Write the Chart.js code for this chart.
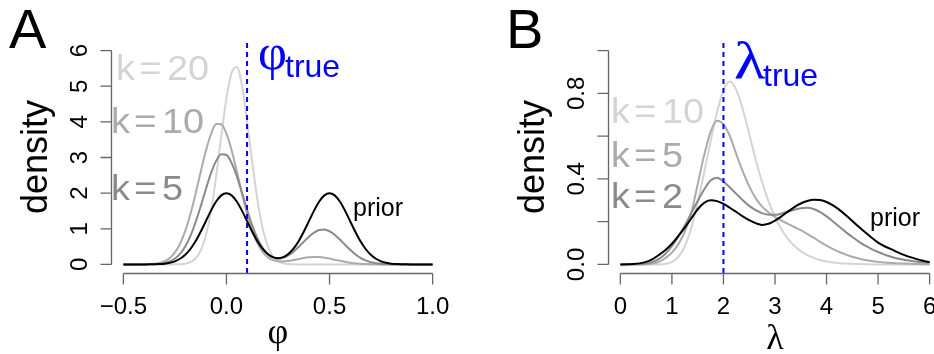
<!DOCTYPE html>
<html>
<head>
<meta charset="utf-8">
<script src="https://cdn.jsdelivr.net/npm/chart.js@4.4.1/dist/chart.umd.min.js"></script>
<style>
  html, body { margin: 0; padding: 0; background: #fff; }
  body { position: relative; width: 934px; height: 354px; overflow: hidden; }
  .panel { position: absolute; top: 0; }
</style>
</head>
<body>
<div class="panel" style="left:0"><canvas id="chartA" width="467" height="354"></canvas></div>
<div class="panel" style="left:467px"><canvas id="chartB" width="480" height="354"></canvas></div>
<script>
// ---- Panel A: densities of phi ----
const phi = [-0.5, -0.475, -0.45, -0.425, -0.4, -0.375, -0.35, -0.325, -0.3, -0.275,
  -0.25, -0.225, -0.2, -0.175, -0.15, -0.125, -0.1, -0.075, -0.05, -0.025,
  0, 0.025, 0.05, 0.075, 0.1, 0.125, 0.15, 0.175, 0.2, 0.225,
  0.25, 0.275, 0.3, 0.325, 0.35, 0.375, 0.4, 0.425, 0.45, 0.475,
  0.5, 0.525, 0.55, 0.575, 0.6, 0.625, 0.65, 0.675, 0.7, 0.725,
  0.75, 0.775, 0.8, 0.825, 0.85, 0.875, 0.9, 0.925, 0.95, 0.975, 1.0];
const phiPrior = [0, 0, 0, 0, 0.001, 0.002, 0.004, 0.010, 0.022, 0.046,
  0.088, 0.159, 0.271, 0.433, 0.649, 0.916, 1.213, 1.510, 1.765, 1.938,
  2.0, 1.938, 1.765, 1.510, 1.214, 0.918, 0.653, 0.443, 0.293, 0.205,
  0.176, 0.205, 0.293, 0.443, 0.653, 0.918, 1.214, 1.510, 1.765, 1.938,
  2.0, 1.938, 1.765, 1.510, 1.213, 0.916, 0.649, 0.433, 0.271, 0.159,
  0.088, 0.046, 0.022, 0.010, 0.004, 0.002, 0.001, 0, 0, 0, 0];
const phiK5 = [0, 0, 0, 0, 0.001, 0.003, 0.008, 0.019, 0.041, 0.085,
  0.165, 0.298, 0.503, 0.795, 1.177, 1.630, 2.111, 2.560, 2.905, 3.090,
  3.070, 2.847, 2.477, 2.016, 1.536, 1.097, 0.735, 0.468, 0.293, 0.196,
  0.165, 0.188, 0.255, 0.360, 0.492, 0.637, 0.778, 0.893, 0.964, 0.978,
  0.931, 0.833, 0.700, 0.553, 0.410, 0.286, 0.187, 0.115, 0.066, 0.036,
  0.018, 0.009, 0.004, 0.002, 0.001, 0, 0, 0, 0, 0, 0];
const phiK10 = [0, 0, 0, 0.001, 0.003, 0.008, 0.019, 0.044, 0.093, 0.183,
  0.337, 0.581, 0.934, 1.406, 1.976, 2.595, 3.185, 3.652, 3.940, 3.930,
  3.667, 3.206, 2.620, 2.000, 1.427, 0.952, 0.597, 0.353, 0.203, 0.121,
  0.087, 0.083, 0.098, 0.124, 0.153, 0.181, 0.201, 0.210, 0.206, 0.190,
  0.164, 0.134, 0.102, 0.073, 0.050, 0.031, 0.019, 0.010, 0.005, 0.003,
  0.001, 0, 0, 0, 0, 0, 0, 0, 0, 0, 0];
const phiK20 = [0, 0, 0, 0, 0, 0, 0, 0, 0, 0,
  0.002, 0.006, 0.021, 0.063, 0.166, 0.389, 0.811, 1.501, 2.468, 3.602,
  4.667, 5.380, 5.540, 5.030, 4.008, 2.867, 1.820, 1.026, 0.513, 0.228,
  0.090, 0.032, 0.010, 0.003, 0.001, 0, 0, 0, 0, 0,
  0, 0, 0, 0, 0, 0, 0, 0, 0, 0,
  0, 0, 0, 0, 0, 0, 0, 0, 0, 0, 0];
const phiTicks = [-0.5, 0, 0.5, 1.0];
const phiTickLabels = ['\u22120.5', '0.0', '0.5', '1.0'];
const phiDensityTicks = [0, 1, 2, 3, 4, 5, 6];
const phiDensityTickLabels = ['0', '1', '2', '3', '4', '5', '6'];
const phiTrue = 0.1;

// ---- Panel B: densities of lambda ----
const lambda = [0, 0.125, 0.25, 0.375, 0.5, 0.625, 0.75, 0.875, 1.0, 1.125,
  1.25, 1.375, 1.5, 1.625, 1.75, 1.875, 2.0, 2.125, 2.25, 2.375,
  2.5, 2.625, 2.75, 2.875, 3.0, 3.125, 3.25, 3.375, 3.5, 3.625,
  3.75, 3.875, 4.0, 4.125, 4.25, 4.375, 4.5, 4.625, 4.75, 4.875,
  5.0, 5.125, 5.25, 5.375, 5.5, 5.625, 5.75, 5.875, 6.0];
const lambdaPrior = [0, 0.001, 0.002, 0.005, 0.012, 0.025, 0.045, 0.068, 0.097, 0.133,
  0.172, 0.215, 0.258, 0.288, 0.300, 0.296, 0.283, 0.265, 0.245, 0.225,
  0.207, 0.193, 0.185, 0.190, 0.205, 0.225, 0.247, 0.268, 0.285, 0.297,
  0.303, 0.301, 0.292, 0.276, 0.255, 0.230, 0.203, 0.176, 0.150, 0.125,
  0.102, 0.085, 0.072, 0.058, 0.045, 0.034, 0.025, 0.017, 0.011];
const lambdaK2 = [0, 0, 0.001, 0.002, 0.005, 0.012, 0.026, 0.050, 0.085, 0.130,
  0.182, 0.240, 0.297, 0.350, 0.392, 0.405, 0.388, 0.360, 0.330, 0.300,
  0.274, 0.254, 0.240, 0.232, 0.232, 0.238, 0.247, 0.256, 0.263, 0.265,
  0.259, 0.245, 0.225, 0.201, 0.176, 0.151, 0.128, 0.107, 0.088, 0.072,
  0.058, 0.046, 0.036, 0.028, 0.022, 0.017, 0.013, 0.010, 0.008];
const lambdaK5 = [0, 0, 0, 0, 0.001, 0.004, 0.012, 0.030, 0.055, 0.095,
  0.152, 0.240, 0.375, 0.510, 0.620, 0.672, 0.655, 0.600, 0.515, 0.435,
  0.365, 0.310, 0.270, 0.243, 0.222, 0.205, 0.190, 0.175, 0.160, 0.143,
  0.125, 0.106, 0.088, 0.072, 0.058, 0.046, 0.036, 0.028, 0.021, 0.016,
  0.012, 0.009, 0.007, 0.005, 0.004, 0.003, 0.002, 0.001, 0.001];
const lambdaK10 = [0, 0, 0, 0, 0, 0, 0, 0.003, 0.012, 0.035,
  0.085, 0.170, 0.290, 0.430, 0.575, 0.710, 0.815, 0.855, 0.815, 0.725,
  0.610, 0.490, 0.385, 0.295, 0.222, 0.165, 0.120, 0.087, 0.062, 0.044,
  0.031, 0.021, 0.014, 0.009, 0.006, 0.004, 0.003, 0.002, 0.001, 0,
  0, 0, 0, 0, 0, 0, 0, 0, 0];
const lambdaTicks = [0, 1, 2, 3, 4, 5, 6];
const lambdaTickLabels = ['0', '1', '2', '3', '4', '5', '6'];
const lambdaDensityTicks = [0, 0.2, 0.4, 0.6, 0.8, 1.0];
const lambdaDensityTickLabels = ['0.0', '', '0.4', '', '0.8', ''];
const lambdaTrue = 2;

// ---- styling ----
const SANS = '"Liberation Sans", Arial, Helvetica, sans-serif';
const SERIF = '"Liberation Serif", "Times New Roman", serif';
const AXIS_COLOR = '#666666';
const C_DARK = '#8a8a8a', C_MID = '#ababab', C_LIGHT = '#d4d4d4';

function curve(xs, ys, color) {
  return {
    data: xs.map((x, i) => ({ x, y: ys[i] })),
    borderColor: color, borderWidth: 2, pointRadius: 0,
    cubicInterpolationMode: 'monotone', fill: false
  };
}
function trueLine(x, yLo, yHi) {
  return {
    data: [{ x, y: yLo }, { x, y: yHi }],
    borderColor: '#0000ff', borderWidth: 2, borderDash: [5, 4],
    pointRadius: 0, fill: false
  };
}

function text(ctx, str, x, y, font, color, align, rotate, stretch) {
  ctx.save();
  ctx.font = font; ctx.fillStyle = color;
  ctx.textAlign = align || 'left'; ctx.textBaseline = 'alphabetic';
  ctx.translate(x, y);
  if (rotate) ctx.rotate(-Math.PI / 2);
  if (stretch) ctx.scale(stretch, 1);
  ctx.fillText(str, 0, 0);
  ctx.restore();
}

// R-style axes: axis line only across the tick range, outward ticks
const rAxes = {
  id: 'rAxes',
  afterDraw(chart, args, o) {
    const ctx = chart.ctx, xs = chart.scales.x, ys = chart.scales.y;
    const area = chart.chartArea;
    ctx.save();
    ctx.strokeStyle = AXIS_COLOR; ctx.lineWidth = 1.3;
    // x axis
    const yb = Math.round(area.bottom) + 0.5;
    const xp = o.xTicks.map(v => xs.getPixelForValue(v));
    ctx.beginPath();
    ctx.moveTo(xp[0], yb); ctx.lineTo(xp[xp.length - 1], yb);
    xp.forEach(p => { ctx.moveTo(p, yb); ctx.lineTo(p, yb + 11); });
    ctx.stroke();
    // y axis
    const xl = Math.round(area.left) + 0.5;
    const yp = o.yTicks.map(v => ys.getPixelForValue(v));
    ctx.beginPath();
    ctx.moveTo(xl, yp[0]); ctx.lineTo(xl, yp[yp.length - 1]);
    yp.forEach(p => { ctx.moveTo(xl, p); ctx.lineTo(xl - 11, p); });
    ctx.stroke();
    ctx.restore();
    const tickFont = '24px ' + SANS;
    o.xTickLabels.forEach((s, i) => text(ctx, s, xp[i], 314, tickFont, '#000', 'center'));
    o.yTickLabels.forEach((s, i) => { if (s) text(ctx, s, xl - 24.5, yp[i], tickFont, '#000', 'center', true); });
    // axis titles
    text(ctx, 'density', xl - 64.5, 157, '36px ' + SANS, '#000', 'center', true);
    text(ctx, o.xTitle, (xp[0] + xp[xp.length - 1]) / 2, o.xTitleBase, '36px ' + SERIF, '#000', 'center');
    // panel letter
    text(ctx, o.letter, o.letterX, 48, '56px ' + SANS, '#000', 'left');
    // true-value label
    text(ctx, o.trueSym, o.trueSymX, o.trueSymBase, o.trueSymSize + 'px ' + SERIF, '#0000ff', 'left', false, o.trueSymStretch);
    text(ctx, 'true', o.trueSubX, o.trueSubBase, '32px ' + SANS, '#0000ff', 'left');
    // curve labels
    const kFont = '35px ' + SANS;
    o.kLabels.forEach(k => {
      text(ctx, 'k', k.x, k.base, kFont, k.color, 'left', false, 1.08);
      text(ctx, '=', k.x + 23, k.base, kFont, k.color, 'left', false, 1.1);
      text(ctx, k.n, k.x + 51, k.base, kFont, k.color, 'left', false, 1.08);
    });
    text(ctx, 'prior', o.priorX, o.priorBase, '25px ' + SANS, '#000', 'left');
  }
};

function makeChart(id, datasets, lim, pad, axisOpts) {
  return new Chart(document.getElementById(id), {
    type: 'line',
    data: { datasets },
    options: {
      responsive: false, animation: false, devicePixelRatio: 1, events: [],
      layout: { padding: pad },
      scales: {
        x: { type: 'linear', min: lim[0], max: lim[1], display: false },
        y: { type: 'linear', min: lim[2], max: lim[3], display: false }
      },
      plugins: { legend: { display: false }, tooltip: { enabled: false }, rAxes: axisOpts }
    },
    plugins: [rAxes]
  });
}

// phi axis padded by 4% like base graphics: [-0.56, 1.06] x [-0.24, 6.24]
makeChart('chartA', [
  trueLine(phiTrue, -0.24, 6.24),
  curve(phi, phiPrior, '#000000'),
  curve(phi, phiK5, C_DARK),
  curve(phi, phiK10, C_MID),
  curve(phi, phiK20, C_LIGHT)
], [-0.56, 1.06, -0.24, 6.24], { left: 111, right: 22, top: 42, bottom: 81 }, {
  xTicks: phiTicks, xTickLabels: phiTickLabels,
  yTicks: phiDensityTicks, yTickLabels: phiDensityTickLabels,
  xTitle: '\u03c6', xTitleBase: 343,
  letter: 'A', letterX: 9,
  trueSym: '\u03c6', trueSymX: 258, trueSymBase: 69, trueSymSize: 50, trueSymStretch: 1,
  trueSubX: 285, trueSubBase: 77,
  kLabels: [
    { n: '20', x: 116, base: 80, color: C_LIGHT },
    { n: '10', x: 111, base: 133, color: C_MID },
    { n: '5', x: 111, base: 200, color: C_DARK }
  ],
  priorX: 353, priorBase: 216
});

// lambda axis padded by 4%: [-0.24, 6.24] x [-0.04, 1.04]
makeChart('chartB', [
  trueLine(lambdaTrue, -0.04, 1.04),
  curve(lambda, lambdaPrior, '#000000'),
  curve(lambda, lambdaK2, C_DARK),
  curve(lambda, lambdaK5, C_MID),
  curve(lambda, lambdaK10, C_LIGHT)
], [-0.24, 6.24, -0.04, 1.04], { left: 141, right: 5, top: 42, bottom: 81 }, {
  xTicks: lambdaTicks, xTickLabels: lambdaTickLabels,
  yTicks: lambdaDensityTicks, yTickLabels: lambdaDensityTickLabels,
  xTitle: '\u03bb', xTitleBase: 349,
  letter: 'B', letterX: 39,
  trueSym: '\u03bb', trueSymX: 267, trueSymBase: 78, trueSymSize: 52, trueSymStretch: 1.25,
  trueSubX: 296, trueSubBase: 86,
  kLabels: [
    { n: '10', x: 144, base: 123, color: C_LIGHT },
    { n: '5', x: 144, base: 167, color: C_MID },
    { n: '2', x: 144, base: 208, color: C_DARK }
  ],
  priorX: 403, priorBase: 226
});
</script>
</body>
</html>
